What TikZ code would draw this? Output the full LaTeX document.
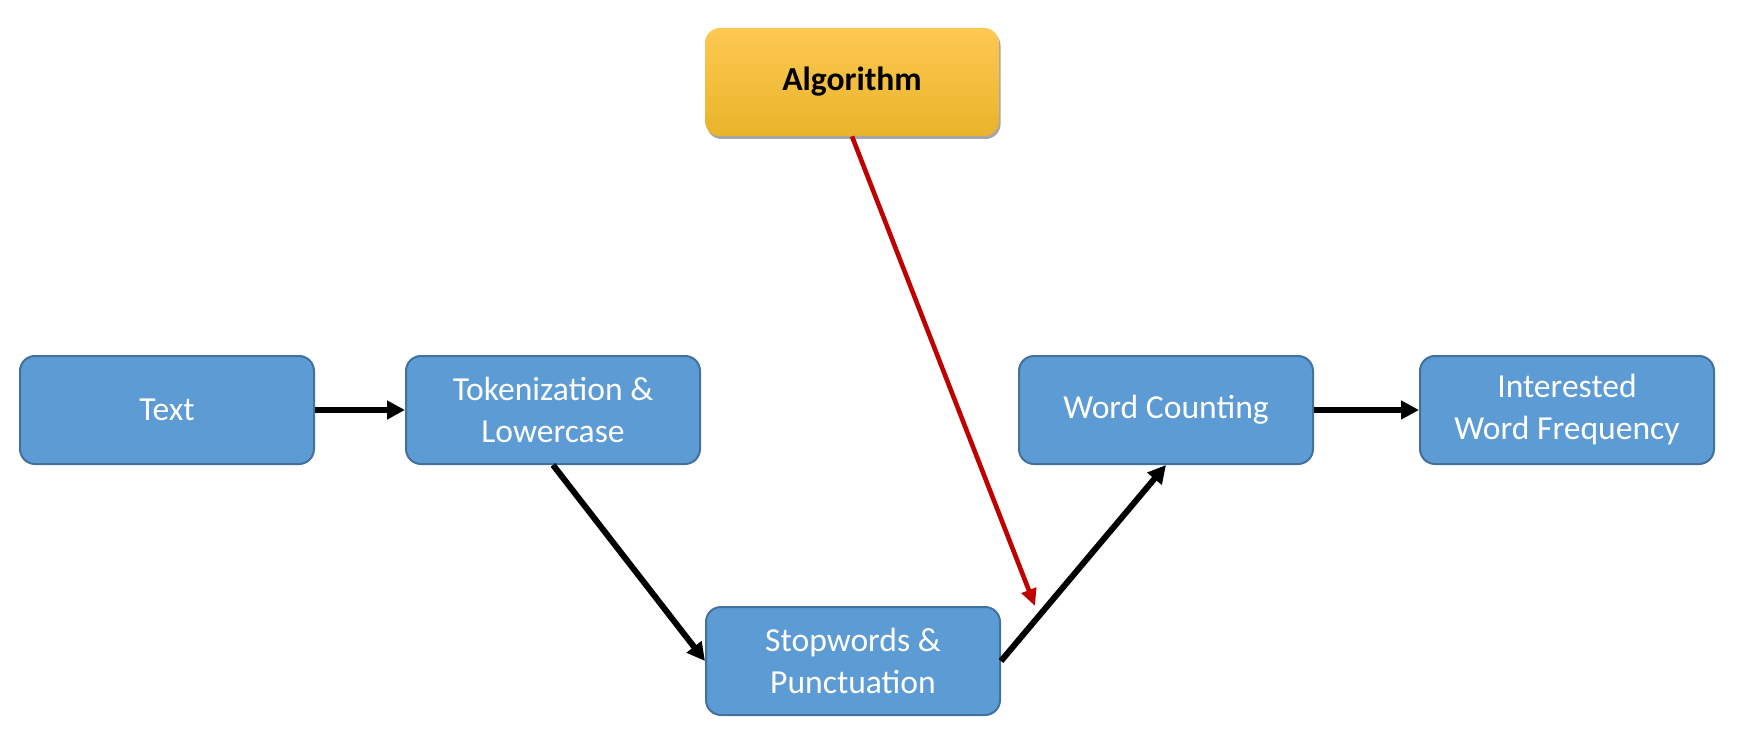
\documentclass[tikz,border=0pt]{standalone}
\usepackage{fontspec}
\setmainfont{Carlito}
\usetikzlibrary{arrows.meta,shadows}
\definecolor{boxblue}{RGB}{93,155,213}
\definecolor{boxedge}{RGB}{65,113,156}
\definecolor{algtop}{RGB}{254,200,82}
\definecolor{algmid}{RGB}{253,194,45}
\definecolor{algbot}{RGB}{233,180,42}
\definecolor{redarrow}{RGB}{192,0,0}
\tikzset{
  stepbox/.style={draw=boxedge, line width=1pt, fill=boxblue, rounded corners=7.5pt,
    minimum width=147pt, minimum height=54pt, align=center, text=white,
    font=\fontsize{16.8pt}{21pt}\selectfont, inner sep=0pt},
  algbox/.style={rounded corners=7.5pt, minimum width=147pt, minimum height=54pt,
    shading=axis, top color=algtop, middle color=algmid, bottom color=algbot,
    drop shadow={shadow xshift=0.8pt, shadow yshift=-1.5pt, opacity=0.35, fill=black},
    font=\bfseries\fontsize{16.8pt}{21pt}\selectfont, text=black, inner sep=0pt},
  flow/.style={line width=3pt, -{Triangle[length=9pt,width=9pt]}, black},
  redflow/.style={line width=2.3pt, -{Triangle[length=8.5pt,width=7.5pt]}, redarrow}
}
\begin{document}
\begin{tikzpicture}[x=0.5pt,y=-0.5pt]
\useasboundingbox (0,0) rectangle (1740,738);
\node[stepbox] (text) at (167,410) {Text};
\node[stepbox] (tok) at (553,410) {Tokenization \&\\Lowercase};
\node[stepbox] (stop) at (853,661) {Stopwords \&\\Punctuation};
\node[stepbox] (wc) at (1166,410) {Word Counting};
\node[stepbox] (int) at (1567,410) {Interested\\Word Frequency};
\node[algbox] (alg) at (852,82) {Algorithm};
\coordinate (redend) at (1035,606);
\draw[flow] (text.east) -- (tok.west);
\draw[flow] (tok.south) -- (stop.west);
\draw[flow] (stop.east) -- (wc.south);
\draw[flow] (wc.east) -- (int.west);
\draw[redflow] (alg.south) -- (redend);
\end{tikzpicture}
\end{document}
